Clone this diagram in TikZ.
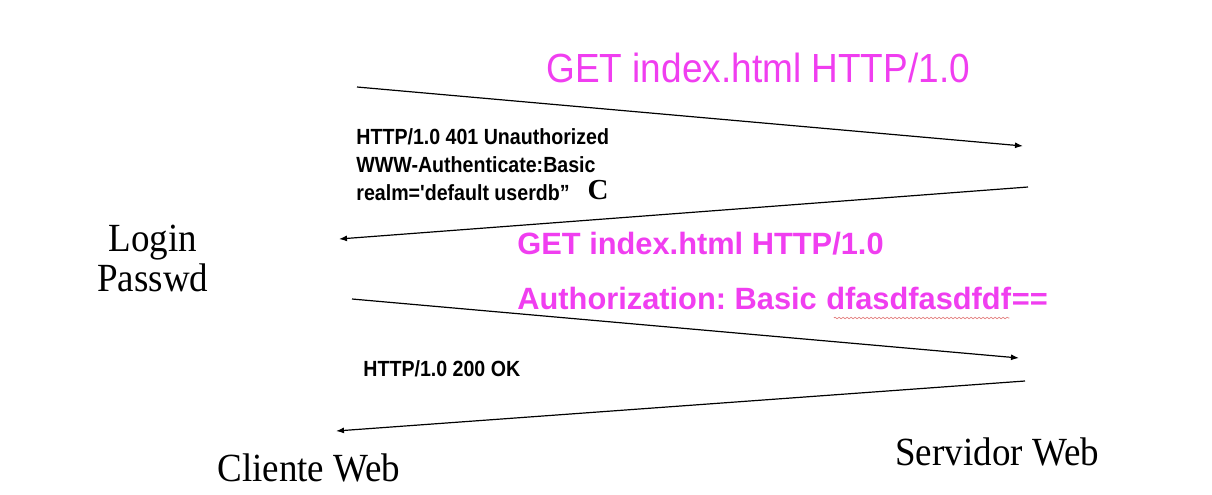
\documentclass[tikz,border=0pt]{standalone}
\usepackage{fontspec}
\setmainfont{Liberation Serif}
\setsansfont{Liberation Sans}
\usepackage{tikz}
\usetikzlibrary{arrows.meta, positioning, decorations.pathmorphing}
\definecolor{msgpink}{HTML}{F03EF0}
\definecolor{spellred}{HTML}{E07070}
\frenchspacing

\begin{document}
\begin{tikzpicture}[
  x=0.5pt, y=-0.5pt,
  actor/.style={font=\fontsize{18.5}{22}\selectfont, inner sep=0pt, anchor=base west,
                yscale=1.08},
  req/.style={font=\fontsize{18.5}{22}\selectfont\sffamily, text=msgpink,
              inner sep=0pt, anchor=base west, yscale=1.1},
  hdr/.style={font=\fontsize{15.4}{18}\selectfont\sffamily\bfseries, text=msgpink,
              inner sep=0pt, anchor=base west},
  resp/.style={font=\fontsize{9.8}{12.6}\selectfont\sffamily\bfseries, align=left,
               inner sep=0pt, yscale=1.12},
  msg/.style={-{Latex[length=4pt,width=3pt]}, line width=0.6pt},
  wavy/.style={spellred, line width=0.3pt, decorate,
               decoration={snake, amplitude=0.4pt, segment length=2pt}},
]
  \useasboundingbox (0,0) rectangle (1212,494);

  %% Ends of the messages
  \coordinate (c1) at (357,87);   \coordinate (s1) at (1023,146);
  \coordinate (s2) at (1028,187); \coordinate (c2) at (339,239);
  \coordinate (c3) at (352,299);  \coordinate (s3) at (1019,358);
  \coordinate (s4) at (1025,381); \coordinate (c4) at (336,431);

  %% Client and server
  \node[actor] (login)  at (108,251) {Login};
  \node[actor] (passwd) at (97,291)  {Passwd};
  \node[actor] (client) at (217,481) {Cliente Web};
  \node[actor] (server) at (895,465) {Servidor Web};

  %% Messages
  \draw[msg] (c1) -- (s1);
  \node[req] (get1) at (546,82) {GET index.html HTTP/1.0};

  \draw[msg] (s2) -- (c2);
  \node[resp, anchor=north west] (unauth) at (356,128)
       {HTTP/1.0 401 Unauthorized\\WWW-Authenticate:Basic\\realm=\textquotesingle default userdb''};
  \node[font=\fontsize{14.5}{16}\selectfont\bfseries, inner sep=0pt] (cmark) at (598,190) {C};

  \draw[msg] (c3) -- (s3);
  \node[hdr] (get2) at (517,254.5) {GET index.html HTTP/1.0};
  \node[hdr] (auth) at (517,309) {Authorization: Basic};
  \node[hdr] (token) at ([xshift=4.3pt]auth.base east) {dfasdfasdfdf};
  \node[hdr] (eqs) at (token.base east) {==};
  \draw[wavy] ([xshift=4pt,yshift=-4.5pt]token.base west) -- ([xshift=-1pt,yshift=-4.5pt]token.base east);

  \draw[msg] (s4) -- (c4);
  \node[resp, anchor=base west] (ok) at (363,376) {HTTP/1.0 200 OK};

\end{tikzpicture}
\end{document}
